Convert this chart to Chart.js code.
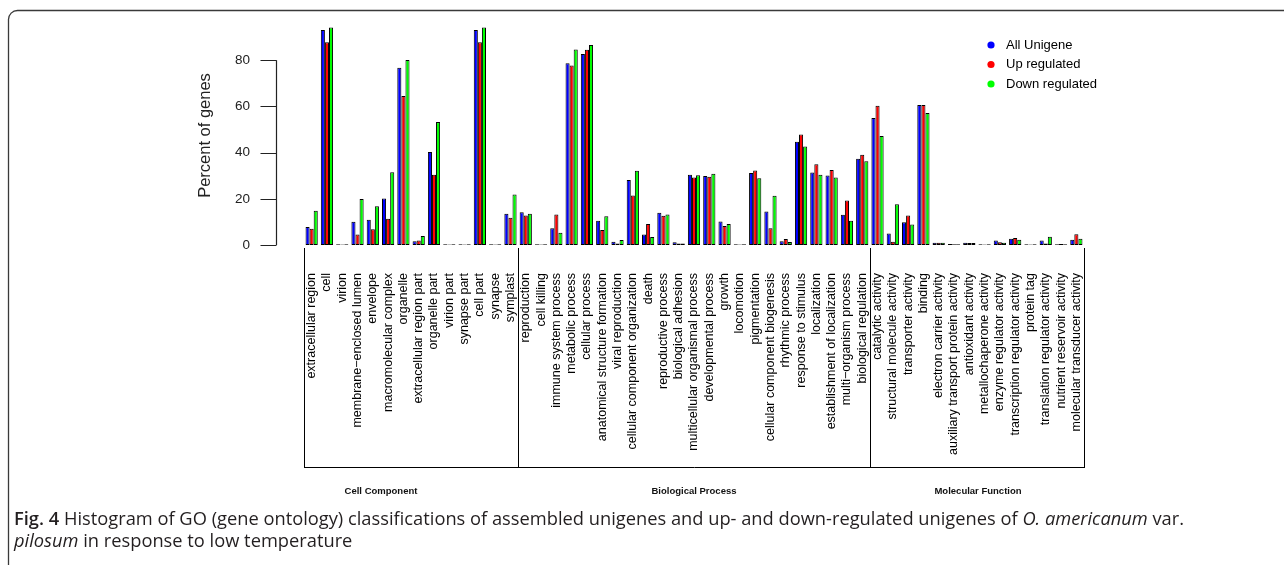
<!DOCTYPE html>
<html><head><meta charset="utf-8">
<script src="https://cdn.jsdelivr.net/npm/chart.js@4.4.1/dist/chart.umd.min.js"></script>
<style>html,body{margin:0;padding:0;background:#fff;}#wrap{width:1284px;height:565px;}</style>
</head><body><div id="wrap"><canvas id="c" width="1284" height="565"></canvas></div>
<script>
const categories = [
  'extracellular region','cell','virion','membrane\u2212enclosed lumen','envelope','macromolecular complex','organelle','extracellular region part','organelle part','virion part','synapse part','cell part','synapse','symplast',
  'reproduction','cell killing','immune system process','metabolic process','cellular process','anatomical structure formation','viral reproduction','cellular component organization','death','reproductive process','biological adhesion','multicellular organismal process','developmental process','growth','locomotion','pigmentation','cellular component biogenesis','rhythmic process','response to stimulus','localization','establishment of localization','multi\u2212organism process','biological regulation',
  'catalytic activity','structural molecule activity','transporter activity','binding','electron carrier activity','auxiliary transport protein activity','antioxidant activity','metallochaperone activity','enzyme regulator activity','transcription regulator activity','protein tag','translation regulator activity','nutrient reservoir activity','molecular transducer activity'
];
const seriesNames = ['All Unigene','Up regulated','Down regulated'];
const allUnigene = [7.8,93.1,0.3,10.1,10.9,20.1,76.7,1.6,40.3,0.3,0.3,93.1,0.3,13.5,
  14.2,0.3,7.3,78.7,82.7,10.5,1.4,28.1,4.5,14.0,1.2,30.4,29.9,10.2,0.3,31.2,14.5,1.6,44.7,31.4,30.1,13.1,37.3,
  55.0,5.0,9.9,60.6,1.0,0.4,1.0,0.3,1.9,2.7,0.3,1.9,0.3,2.3];
const upRegulated = [7.0,87.8,0.2,4.5,6.8,11.4,64.5,2.0,30.4,0.2,0.2,87.8,0.2,11.8,
  12.8,0.2,13.2,77.7,84.5,6.5,0.6,21.4,9.1,12.7,0.6,29.2,29.5,8.2,0.2,32.2,7.3,2.6,47.8,35.0,32.5,19.3,39.1,
  60.3,1.4,12.8,60.6,1.0,0.3,0.9,0.2,1.2,3.0,0.2,0.7,0.4,4.6];
const downRegulated = [14.8,94.2,0.3,19.9,16.8,31.5,80.1,3.9,53.2,0.3,0.3,94.2,0.3,21.9,
  13.5,0.3,5.3,84.6,86.6,12.4,2.2,32.1,3.5,13.2,0.7,30.2,30.8,9.1,0.3,28.9,21.3,1.3,42.6,30.4,29.2,10.5,36.3,
  47.2,17.6,8.9,57.1,1.0,0.3,0.9,0.3,1.0,2.3,0.3,3.6,0.3,2.7];
const seriesColors = ['#0000ff','#ff0000','#00ff00'];
const yTicks = [0,20,40,60,80];
const yTitle = 'Percent of genes';
const groupNames = ['Cell Component','Biological Process','Molecular Function'];
const groupSizes = [14,23,14];
const groupLabelX = [381,694,978];
const captionLine1 = [['Fig. 4','bold'],[' Histogram of GO (gene ontology) classifications of assembled unigenes and up- and down-regulated unigenes of ','normal'],['O. americanum','italic'],[' var.','normal']];
const captionLine2 = [['pilosum','italic'],[' in response to low temperature','normal']];

const seriesData = [allUnigene, upRegulated, downRegulated];

const decor = {
  id: 'decor',
  beforeDraw(chart){
    const ctx = chart.ctx;
    ctx.save(); ctx.fillStyle = '#fff'; ctx.fillRect(0,0,chart.width,chart.height); ctx.restore();
  },
  afterDraw(chart){
    const ctx = chart.ctx, xs = chart.scales.x, ys = chart.scales.y, ca = chart.chartArea;
    ctx.save();
    // frame
    ctx.strokeStyle = '#3a3a3a'; ctx.lineWidth = 1.3;
    ctx.beginPath();
    ctx.moveTo(8.5, 575); ctx.lineTo(8.5, 19); ctx.arcTo(8.5, 10.5, 17, 10.5, 9); ctx.lineTo(1300, 10.5);
    ctx.stroke();
    // y axis line and ticks
    const ax = Math.round(ca.left - 28) + 0.5;
    ctx.strokeStyle = '#222'; ctx.lineWidth = 1.2;
    ctx.beginPath();
    ctx.moveTo(ax, ys.getPixelForValue(yTicks[0])); ctx.lineTo(ax, ys.getPixelForValue(yTicks[yTicks.length-1]));
    yTicks.forEach(v => { const py = Math.round(ys.getPixelForValue(v)) + 0.5; ctx.moveTo(ax, py); ctx.lineTo(ax - 16, py); });
    ctx.stroke();
    // category box
    const top = ca.bottom + 3, bot = ca.bottom + 222;
    let idx = -0.5;
    const bounds = [idx];
    groupSizes.forEach(n => { idx += n; bounds.push(idx); });
    ctx.strokeStyle = '#000'; ctx.lineWidth = 1;
    ctx.beginPath();
    bounds.forEach(b => { const px = Math.round(xs.getPixelForValue(b)) + 0.5; ctx.moveTo(px, top); ctx.lineTo(px, bot); });
    ctx.moveTo(Math.round(xs.getPixelForValue(bounds[0])), bot + 0.5);
    ctx.lineTo(Math.round(xs.getPixelForValue(bounds[bounds.length-1])) + 1, bot + 0.5);
    ctx.stroke();
    // group labels
    ctx.fillStyle = '#111';
    ctx.font = "bold 9.5px 'Liberation Sans Narrow', 'Liberation Sans', Arial, sans-serif";
    ctx.textAlign = 'center'; ctx.textBaseline = 'middle';
    groupNames.forEach((g, i) => ctx.fillText(g, groupLabelX[i], 491));
    // legend
    ctx.font = "13px 'Liberation Sans', Arial, sans-serif";
    ctx.textAlign = 'left';
    chart.data.datasets.forEach((ds, i) => {
      const ly = 45 + i * 19.5;
      ctx.fillStyle = ds.backgroundColor;
      ctx.beginPath(); ctx.arc(991, ly, 3.6, 0, Math.PI*2); ctx.fill();
      ctx.fillStyle = '#000';
      ctx.fillText(ds.label, 1006, ly);
    });
    // caption
    const drawRuns = (runs, x, y) => {
      runs.forEach(([t, st]) => {
        const w = st === 'bold' ? '600 ' : (st === 'italic' ? 'italic ' : '');
        ctx.font = w + "18.3px 'Open Sans', sans-serif";
        ctx.fillStyle = '#231f20';
        ctx.fillText(t, x, y);
        x += ctx.measureText(t).width;
      });
    };
    ctx.textBaseline = 'alphabetic'; ctx.textAlign = 'left';
    drawRuns(captionLine1, 14, 525);
    drawRuns(captionLine2, 14, 547);
    ctx.restore();
  }
};

new Chart(document.getElementById('c'), {
  type: 'bar',
  data: {
    labels: categories,
    datasets: seriesData.map((d, i) => ({
      label: seriesNames[i], data: d,
      backgroundColor: seriesColors[i], borderColor: '#000', borderWidth: 1, borderSkipped: false,
      categoryPercentage: 0.8, barPercentage: 1.0
    }))
  },
  options: {
    responsive: false, animation: false, devicePixelRatio: 1,
    layout: { padding: { top: 26, right: 200, left: 0, bottom: 0 } },
    plugins: { legend: { display: false }, tooltip: { enabled: false } },
    scales: {
      x: {
        type: 'category', offset: true,
        grid: { display: false, drawTicks: false }, border: { display: false },
        ticks: { autoSkip: false, minRotation: 90, maxRotation: 90, padding: 28, color: '#000',
          font: { family: "'Liberation Sans', Arial, sans-serif", size: 12.5 } },
        afterFit: s => { s.height = 320; s.paddingLeft = 0; s.paddingRight = 0; }
      },
      y: {
        min: 0, max: 94.8,
        grid: { display: false, drawTicks: false }, border: { display: false },
        afterBuildTicks: s => { s.ticks = yTicks.map(v => ({ value: v })); },
        ticks: { padding: 54, color: '#222', font: { family: "'Liberation Sans', Arial, sans-serif", size: 13.5 } },
        title: { display: true, text: yTitle, color: '#222', padding: { top: 196, bottom: 0 },
          font: { family: "'Liberation Sans', Arial, sans-serif", size: 16.5 } },
        afterFit: s => { s.width = 304; s.paddingTop = 0; s.paddingBottom = 0; }
      }
    }
  },
  plugins: [decor]
});
</script></body></html>
